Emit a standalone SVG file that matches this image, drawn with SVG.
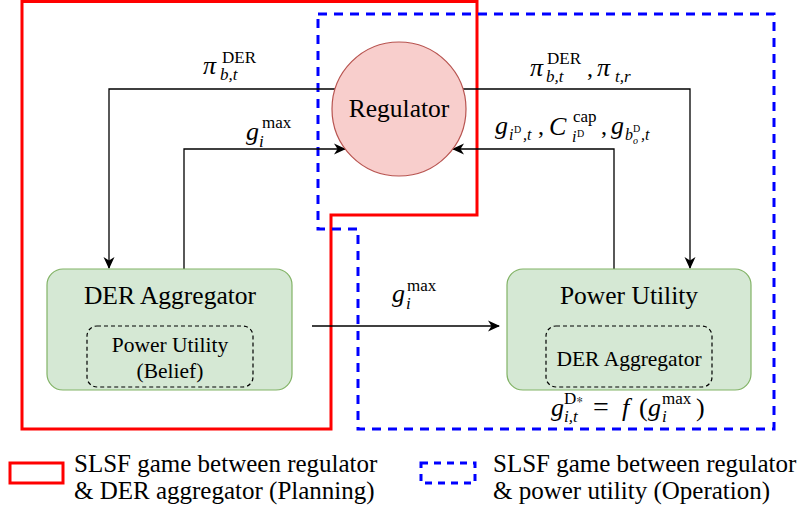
<svg xmlns="http://www.w3.org/2000/svg" width="804" height="514" viewBox="0 0 804 514">
<defs>
<marker id="arr" markerUnits="userSpaceOnUse" markerWidth="12" markerHeight="12" viewBox="0 0 12 12" refX="11" refY="6" orient="auto">
<path d="M0,0.5 L12,6 L0,11.5 L3.5,6 Z" fill="#000"/>
</marker>
<style>
text{font-family:"Liberation Serif","Times New Roman",Times,Tinos,"Nimbus Roman",FreeSerif,"Noto Serif","DejaVu Serif",serif;fill:#000}
.m{font-style:italic}
.box{fill:#d5e8d4;stroke:#82b366;stroke-width:1.2}
.inner{fill:none;stroke:#000;stroke-width:1.2;stroke-dasharray:4 3}
.conn{fill:none;stroke:#000;stroke-width:1.3;marker-end:url(#arr)}
.red{fill:none;stroke:#ff0000;stroke-width:3}
.blue{fill:none;stroke:#0000ff;stroke-width:3;stroke-dasharray:9 7}
</style>
</defs>
<rect width="804" height="514" fill="#fff"/>

<g id="regions">
<path class="red" d="M22,1.5 H477 V215 H331 V429 H22 Z"/>
<path class="blue" d="M318,14 H774 V429 H358 V229 H318 Z"/>
</g>

<g id="connectors">
<path class="conn" d="M335,89 H109 V268"/>
<path class="conn" d="M463,89 H690 V268"/>
<path class="conn" d="M184,270 V149 H345"/>
<path class="conn" d="M614,270 V149 H453"/>
<path class="conn" d="M312,326 H499"/>
</g>

<g id="regulator">
<circle cx="399" cy="109" r="67" fill="#f8cecc" stroke="#b85450" stroke-width="1.2"/>
<text x="399" y="117" font-size="25.5" text-anchor="middle">Regulator</text>
</g>

<g id="der-aggregator">
<rect class="box" x="47" y="269" width="245" height="121" rx="16"/>
<text x="170" y="304" font-size="25.5" text-anchor="middle">DER Aggregator</text>
<rect class="inner" x="87" y="326" width="166" height="61" rx="10"/>
<text x="170" y="352" font-size="21.5" text-anchor="middle">Power Utility</text>
<text x="170" y="378" font-size="21.5" text-anchor="middle">(Belief)</text>
</g>

<g id="power-utility">
<rect class="box" x="507" y="269" width="244" height="121" rx="16"/>
<text x="629" y="304" font-size="25.5" text-anchor="middle">Power Utility</text>
<rect class="inner" x="546" y="326" width="166" height="61" rx="10"/>
<text x="629" y="366" font-size="21.5" text-anchor="middle">DER Aggregator</text>
</g>

<g id="labels">
<text class="m" x="203" y="74" font-size="26">π</text>
<text x="222" y="63" font-size="17">DER</text>
<text class="m" x="220" y="80" font-size="17">b,t</text>

<text class="m" x="246" y="140" font-size="26">g</text>
<text x="262" y="128" font-size="17">max</text>
<text class="m" x="259" y="147" font-size="17">i</text>

<text class="m" x="530" y="76" font-size="26">π</text>
<text x="547" y="64" font-size="17">DER</text>
<text class="m" x="546" y="82" font-size="17">b,t</text>
<text x="587" y="76" font-size="24">,</text>
<text class="m" x="597" y="76" font-size="26">π</text>
<text class="m" x="615" y="82" font-size="17">t,r</text>

<text class="m" x="495" y="134" font-size="26">g</text>
<text class="m" x="509" y="140" font-size="16">i</text>
<text x="514" y="133" font-size="10">D</text>
<text class="m" x="523" y="140" font-size="16">,t</text>
<text x="538" y="134" font-size="24">,</text>
<text class="m" x="549" y="135" font-size="26">C</text>
<text x="573" y="122" font-size="17">cap</text>
<text class="m" x="572" y="142" font-size="16">i</text>
<text x="577" y="137" font-size="10">D</text>
<text x="601" y="134" font-size="24">,</text>
<text class="m" x="611" y="134" font-size="26">g</text>
<text class="m" x="625" y="140" font-size="16">b</text>
<text x="633" y="132" font-size="10">D</text>
<text class="m" x="633" y="144" font-size="10">o</text>
<text class="m" x="641" y="140" font-size="16">,t</text>

<text class="m" x="392" y="302" font-size="26">g</text>
<text x="407" y="291" font-size="17">max</text>
<text class="m" x="406" y="309" font-size="17">i</text>

<text class="m" x="551" y="416" font-size="26">g</text>
<text x="564" y="404" font-size="17">D∗</text>
<text class="m" x="564" y="422" font-size="17">i,t</text>
<text x="593" y="416" font-size="28">=</text>
<text class="m" x="622" y="416" font-size="26">f</text>
<text x="639" y="416" font-size="26">(</text>
<text class="m" x="648" y="416" font-size="26">g</text>
<text x="662" y="404" font-size="17">max</text>
<text class="m" x="662" y="422" font-size="17">i</text>
<text x="696" y="416" font-size="26">)</text>
</g>

<g id="legend">
<rect x="10" y="463" width="53" height="20" fill="none" stroke="#ff0000" stroke-width="3"/>
<text x="74" y="472" font-size="25">SLSF game between regulator</text>
<text x="74" y="499" font-size="25">&amp; DER aggregator (Planning)</text>
<rect x="421" y="463" width="54" height="20" fill="none" stroke="#0000ff" stroke-width="3" stroke-dasharray="7 6"/>
<text x="493" y="472" font-size="25">SLSF game between regulator</text>
<text x="493" y="499" font-size="25">&amp; power utility (Operation)</text>
</g>
</svg>
